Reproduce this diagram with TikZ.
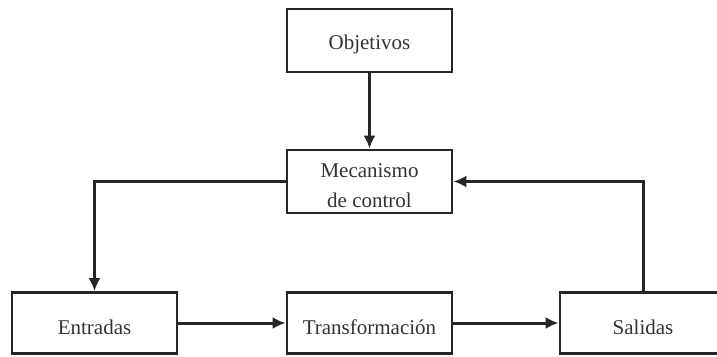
\documentclass[tikz,border=0pt]{standalone}
\usepackage{fontspec}
\setmainfont{Liberation Serif}
\usetikzlibrary{arrows.meta}
\begin{document}
\begin{tikzpicture}[x=1pt,y=-1pt,
  blockbox/.style={draw=black!85, line width=2.8pt, minimum width=165pt, inner sep=0pt},
  blocktext/.style={align=center, inner sep=0pt, yshift=-4pt,
    font=\fontsize{21}{30}\selectfont, text=black!80},
  link/.style={draw=black!85, line width=3pt, -{Latex[length=13pt,width=12pt]}}]
\clip (0,0) rectangle (717,356);
\fill[white] (0,0) rectangle (717,356);
% boxes
\node[blockbox, minimum height=63pt] (obj) at (369.5,40.5) {};
\node[blockbox, minimum height=63pt] (mec) at (369.5,181.5) {};
\node[blockbox, minimum height=61pt] (ent) at (94.5,323) {};
\node[blockbox, minimum height=61pt] (tra) at (369.5,323) {};
\node[blockbox, minimum height=61pt, minimum width=166pt] (sal) at (643,323) {};
% box texts
\node[blocktext] (objtext) at (obj) {Objetivos};
\node[blocktext] (mectext) at (mec) {Mecanismo\\de control};
\node[blocktext] (enttext) at (ent) {Entradas};
\node[blocktext] (tratext) at (tra) {Transformación};
\node[blocktext] (saltext) at (sal) {Salidas};
% connectors
\draw[link] (obj.south) -- (mec.north);
\draw[link] (mec.west) -| (ent.north);
\draw[link] (ent.east) -- (tra.west);
\draw[link] (tra.east) -- (sal.west);
\draw[link] (sal.north) |- (mec.east);
\end{tikzpicture}
\end{document}
